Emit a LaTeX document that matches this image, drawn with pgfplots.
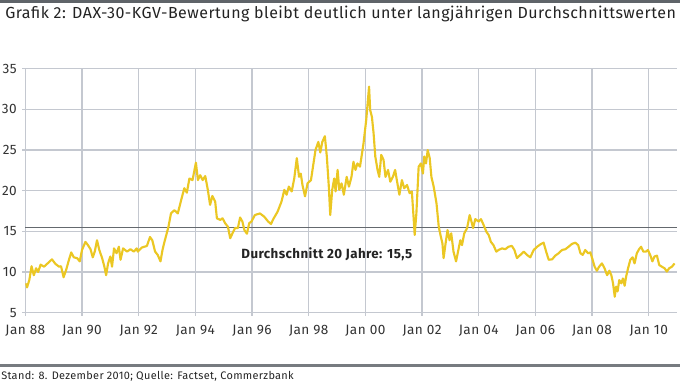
\documentclass[border=0pt]{standalone}
\usepackage{pgfplots}
\pgfplotsset{compat=1.18}
\usepackage{fontspec}
\setmainfont{Fira Sans}[LetterSpace=3]
\definecolor{cbyellow}{RGB}{235,199,35}
\definecolor{gridc}{RGB}{196,200,208}
\definecolor{avgc}{RGB}{100,105,110}
\definecolor{rulec}{RGB}{95,100,105}
\definecolor{txt}{RGB}{35,35,35}
\definecolor{ticktxt}{RGB}{50,50,50}
\pgfplotstableread{
x y
1988.03 8.6
1988.06 8.1
1988.14 9.0
1988.22 10.7
1988.30 9.6
1988.38 10.45
1988.45 10.0
1988.54 10.9
1988.66 10.65
1988.77 11.0
1988.94 11.55
1989.06 11.0
1989.19 10.65
1989.26 10.7
1989.35 9.35
1989.44 10.25
1989.54 11.5
1989.62 12.4
1989.71 11.8
1989.83 11.7
1989.92 11.3
1990.00 12.7
1990.12 13.7
1990.21 13.3
1990.30 12.8
1990.38 11.8
1990.45 12.5
1990.53 13.9
1990.61 12.7
1990.71 11.7
1990.79 10.65
1990.85 9.6
1990.92 11.05
1991.00 11.9
1991.06 10.65
1991.13 12.9
1991.22 12.3
1991.30 13.1
1991.36 11.5
1991.45 12.9
1991.59 12.5
1991.71 12.8
1991.83 12.5
1991.93 12.9
1991.97 12.5
1992.11 13.0
1992.29 13.2
1992.40 14.3
1992.48 13.9
1992.58 12.5
1992.67 12.1
1992.77 11.3
1992.84 12.7
1992.91 13.7
1992.99 14.75
1993.05 15.55
1993.14 17.2
1993.26 17.6
1993.38 17.2
1993.50 18.85
1993.61 20.3
1993.70 19.75
1993.79 21.5
1993.90 21.3
1994.02 23.45
1994.09 21.3
1994.17 21.9
1994.26 21.3
1994.35 21.8
1994.44 20.1
1994.52 18.25
1994.60 19.35
1994.70 18.65
1994.76 16.6
1994.88 16.4
1994.96 16.6
1995.05 16.0
1995.15 15.55
1995.23 14.15
1995.31 14.75
1995.40 15.4
1995.50 15.4
1995.58 16.7
1995.66 16.2
1995.73 15.15
1995.82 14.7
1995.90 16.0
1995.98 16.2
1996.10 17.0
1996.28 17.2
1996.43 16.8
1996.57 16.2
1996.67 15.9
1996.75 16.5
1996.90 17.4
1997.04 18.65
1997.14 20.1
1997.22 19.5
1997.30 20.5
1997.40 19.9
1997.49 21.5
1997.58 24.0
1997.66 21.7
1997.72 22.1
1997.78 20.7
1997.87 19.3
1997.96 20.9
1998.08 21.3
1998.16 23.15
1998.24 25.0
1998.34 26.0
1998.41 24.7
1998.48 26.0
1998.57 26.7
1998.64 24.2
1998.71 20.5
1998.76 17.0
1998.83 20.1
1998.90 21.5
1998.95 19.9
1999.02 22.55
1999.08 20.1
1999.16 20.9
1999.24 19.5
1999.34 21.7
1999.42 20.5
1999.51 21.7
1999.58 23.55
1999.65 22.55
1999.72 23.35
1999.81 22.95
1999.93 25.7
2000.03 28.7
2000.08 30.75
2000.13 32.8
2000.17 29.9
2000.23 29.1
2000.29 27.05
2000.35 24.2
2000.43 22.55
2000.49 21.7
2000.56 24.4
2000.64 23.8
2000.71 21.7
2000.80 22.55
2000.88 21.1
2000.97 21.7
2001.05 22.55
2001.13 20.9
2001.20 19.5
2001.29 21.3
2001.37 20.3
2001.47 20.7
2001.56 19.7
2001.64 19.9
2001.70 16.8
2001.74 14.55
2001.80 17.2
2001.88 22.95
2001.96 23.35
2002.03 22.1
2002.08 24.2
2002.14 23.35
2002.20 25.0
2002.27 24.0
2002.33 21.7
2002.41 20.5
2002.51 18.45
2002.59 15.55
2002.65 14.55
2002.72 13.5
2002.76 11.7
2002.83 13.5
2002.90 15.15
2002.97 13.9
2003.03 14.75
2003.11 12.5
2003.20 11.3
2003.27 12.5
2003.35 13.9
2003.41 13.3
2003.49 14.75
2003.59 15.4
2003.68 17.0
2003.76 16.0
2003.80 15.4
2003.88 16.5
2004.00 16.2
2004.08 16.5
2004.17 15.8
2004.27 14.95
2004.35 14.55
2004.43 13.7
2004.52 13.3
2004.62 12.5
2004.70 12.7
2004.82 12.9
2004.94 12.8
2005.05 13.1
2005.17 13.2
2005.26 12.7
2005.35 11.7
2005.47 12.1
2005.59 12.5
2005.70 12.1
2005.82 11.8
2005.94 12.7
2006.06 13.1
2006.20 13.45
2006.29 13.6
2006.38 12.5
2006.47 11.5
2006.59 11.55
2006.70 12.0
2006.82 12.3
2006.94 12.7
2007.06 12.8
2007.17 13.1
2007.29 13.45
2007.41 13.6
2007.51 13.3
2007.59 12.3
2007.67 12.1
2007.76 12.7
2007.86 12.3
2007.94 12.4
2008.02 11.5
2008.09 10.65
2008.17 10.15
2008.25 10.65
2008.35 11.05
2008.44 10.45
2008.53 9.6
2008.61 10.15
2008.68 9.6
2008.74 8.6
2008.80 6.95
2008.85 8.2
2008.90 7.6
2008.96 9.0
2009.03 8.6
2009.09 9.2
2009.15 8.3
2009.20 9.4
2009.27 10.45
2009.35 11.5
2009.43 11.8
2009.50 11.05
2009.58 12.3
2009.66 12.8
2009.73 13.1
2009.81 12.5
2009.90 12.5
2009.97 12.7
2010.05 12.1
2010.13 11.3
2010.20 11.9
2010.29 12.0
2010.37 10.85
2010.46 10.65
2010.56 10.45
2010.64 10.05
2010.72 10.45
2010.82 10.65
2010.91 11.05
}\kgv
\begin{document}
\begin{tikzpicture}[x=1pt,y=1pt]
\path[use as bounding box] (0,0) rectangle (510,288);
\fill[rulec] (0,285.8) rectangle (510,288);
\node[anchor=base west, inner sep=0, font=\fontsize{12}{13}\selectfont, text=txt] at (3.75,274.1) {Grafik 2: DAX-30-KGV-Bewertung bleibt deutlich unter langjährigen Durchschnittswerten};
\begin{axis}[at={(19pt,53.55pt)}, anchor=south west, scale only axis,
  width=488.8pt, height=182.9pt,
  xmin=1988, xmax=2011, ymin=5, ymax=35,
  axis line style={draw=none},
  tick pos=left, tick align=outside, major tick length=2.25pt,
  tick style={gridc, line width=0.9pt},
  grid=major, major grid style={gridc, line width=0.9pt},
  xtick={1988,1990,...,2010},
  xticklabels={Jan 88,Jan 90,Jan 92,Jan 94,Jan 96,Jan 98,Jan 00,Jan 02,Jan 04,Jan 06,Jan 08,Jan 10},
  ytick={5,10,...,35},
  /pgf/number format/assume math mode=true,
  tick label style={font=\fontsize{10.2}{11}\selectfont, text=ticktxt},
  yticklabel style={anchor=east, inner sep=0pt, xshift=-4pt},
  xticklabel style={anchor=north, inner sep=0pt, yshift=-7pt},
  clip=false,
]
\addplot[avgc, line width=1.1pt] coordinates {(1988,15.5) (2011,15.5)};
\addplot[cbyellow, line width=1.6pt, line join=round] table[x=x,y=y] {\kgv};
\node[font=\bfseries\fontsize{10}{11}\selectfont, text=txt] at (axis cs:1998.64,12.2) {Durchschnitt 20 Jahre: 15,5};
\end{axis}
\draw[rulec!85, line width=1.6pt] (0,13.9) -- (510,13.9);
\node[anchor=base west, inner sep=0, font=\fontsize{8.2}{10}\selectfont, text=txt] at (0.75,3.4) {Stand: 8. Dezember 2010; Quelle: Factset, Commerzbank};
\end{tikzpicture}
\end{document}
